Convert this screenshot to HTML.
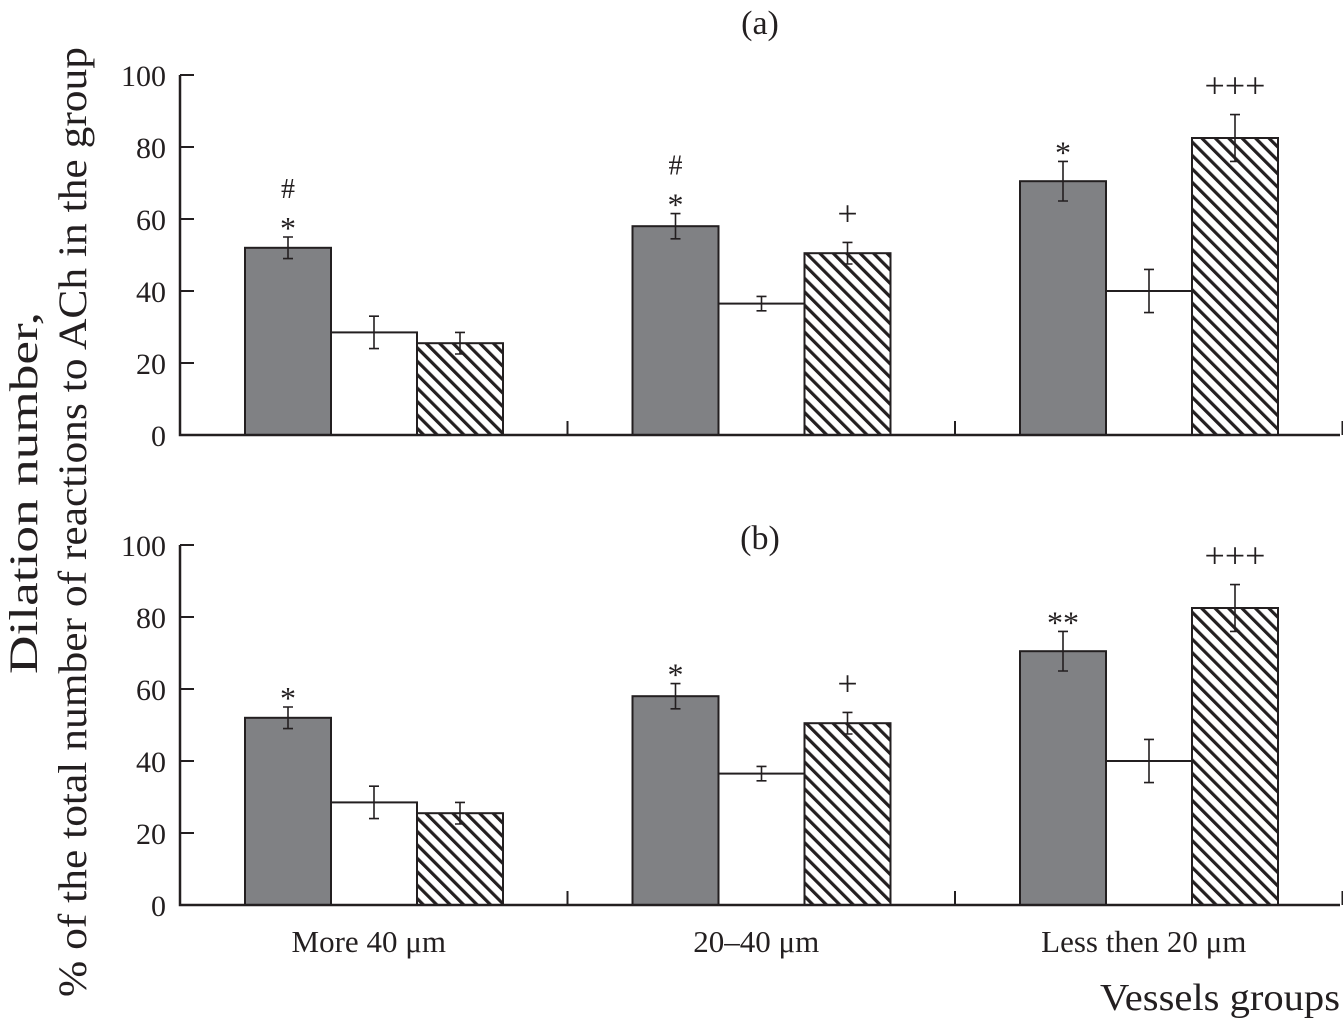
<!DOCTYPE html>
<html><head><meta charset="utf-8"><style>
body{margin:0;background:#fff;}
svg text{font-family:"Liberation Serif",serif;fill:#231f20;}
</style></head><body>
<svg id="chart" width="1343" height="1023" xmlns="http://www.w3.org/2000/svg">
<defs>
<pattern id="hatch" patternUnits="userSpaceOnUse" width="9.5" height="9.5" patternTransform="rotate(-45)">
<rect width="9.5" height="9.5" fill="#fff"/>
<rect x="0" y="0" width="3.2" height="9.5" fill="#231f20"/>
</pattern>
</defs>
<text font-size="40" text-anchor="middle" textLength="362" lengthAdjust="spacingAndGlyphs" transform="translate(37,493) rotate(-90)">Dilation number,</text>
<text font-size="40" text-anchor="middle" textLength="950" lengthAdjust="spacingAndGlyphs" transform="translate(86,522) rotate(-90)">% of the total number of reactions to ACh in the group</text>
<text x="1340" y="1010" font-size="38" text-anchor="end" textLength="240" lengthAdjust="spacingAndGlyphs">Vessels groups</text>
<g id="plots"></g>
</svg>
<script>
const categories = ["More 40 \u03bcm", "20\u201340 \u03bcm", "Less then 20 \u03bcm"];
const darkValues = [52, 58, 70.5];
const darkErr = [3, 3.5, 5.5];
const whiteValues = [28.5, 36.5, 40];
const whiteErr = [4.5, 2, 6];
const hatchValues = [25.5, 50.5, 82.5];
const hatchErr = [3, 3, 6.5];
const yTicks = [0, 20, 40, 60, 80, 100];
const marksA = [["#","*"],["#","*"],["*"]];
const hatchMarksA = ["", "+", "+++"];
const marksB = [["*"],["*"],["**"]];
const hatchMarksB = ["", "+", "+++"];

const NS = "http://www.w3.org/2000/svg";
const g = document.getElementById("plots");
function mk(tag, attrs, parent){const e=document.createElementNS(NS,tag);for(const k in attrs)e.setAttribute(k,attrs[k]);(parent||g).appendChild(e);return e;}
const x0 = 180, catW = 387.5, barW = 86, xEnd = 1340;
function xBar(ci, si){return x0 + 65 + ci*catW + si*barW;}

function panel(y0, label, marks, hmarks, key){
  const yScale = v => y0 - v*3.6;
  const grp = mk("g",{});
  
  
  const t = mk("text",{x:760,y:(key==="a"?34:549),"font-size":34,"text-anchor":"middle"},grp);
  t.textContent = label;
  
  
  const series = [[darkValues,darkErr,"#808184"],[whiteValues,whiteErr,"#fff"],[hatchValues,hatchErr,"url(#hatch)"]];
  categories.forEach((c,ci)=>{
    series.forEach((s,si)=>{
      const v=s[0][ci], e=s[1][ci], x=xBar(ci,si);
      const r = mk("rect",{x:x,y:yScale(v),width:barW,height:yScale(0)-yScale(v),fill:s[2],stroke:"#231f20","stroke-width":2},grp);
      
      
      const cx=x+barW/2;
      const eb = mk("path",{d:`M${cx},${yScale(v+e)}V${yScale(v-e)}M${cx-5},${yScale(v+e)}H${cx+5}M${cx-5},${yScale(v-e)}H${cx+5}`,stroke:"#231f20","stroke-width":1.6,fill:"none"},grp);
      
      
    });
    const m = marks[ci];
    const cx = xBar(ci,0)+barW/2;
    const top = yScale(darkValues[ci]+darkErr[ci]);
    for(let i=0;i<m.length;i++){
      const sym = m[m.length-1-i];
      const st = mk("text",{x:cx,y:top-6-i*33+(sym[0]==="*"?8:0),"font-size":sym[0]==="*"?32:28,"text-anchor":"middle"},grp);
      st.textContent = sym;
      
      
    }
    if(hmarks[ci]){
      const hx = xBar(ci,2)+barW/2;
      const ht = mk("text",{x:hx,y:yScale(hatchValues[ci]+hatchErr[ci])-17,"font-size":36,"text-anchor":"middle"},grp);
      ht.textContent = hmarks[ci];
      
      
    }
  });
  const ax = mk("path",{d:`M${x0},${yScale(100)}V${y0}H${xEnd}`,stroke:"#231f20","stroke-width":2.5,fill:"none"},grp);
  
  
  yTicks.forEach(v=>{
    const tk = mk("path",{d:`M${x0},${yScale(v)}H${x0+14}`,stroke:"#231f20","stroke-width":2},grp);
    
    
    const tl = mk("text",{x:x0-14,y:yScale(v)+11,"font-size":30,"text-anchor":"end"},grp);
    tl.textContent = v;
    
    
  });
  for(let i=1;i<=3;i++){
    const xt = x0+i*catW;
    const tk = mk("path",{d:`M${xt},${y0}V${y0-14}`,stroke:"#231f20","stroke-width":2},grp);
    
    
  }
  return yScale;
}
panel(435,"(a)",marksA,hatchMarksA,"a");
panel(905,"(b)",marksB,hatchMarksB,"b");
categories.forEach((c,ci)=>{
  const t = mk("text",{x:x0+ci*catW+catW/2-5,y:952,"font-size":31,"text-anchor":"middle"});
  t.textContent = c;
  
  
});
</script>
</body></html>
